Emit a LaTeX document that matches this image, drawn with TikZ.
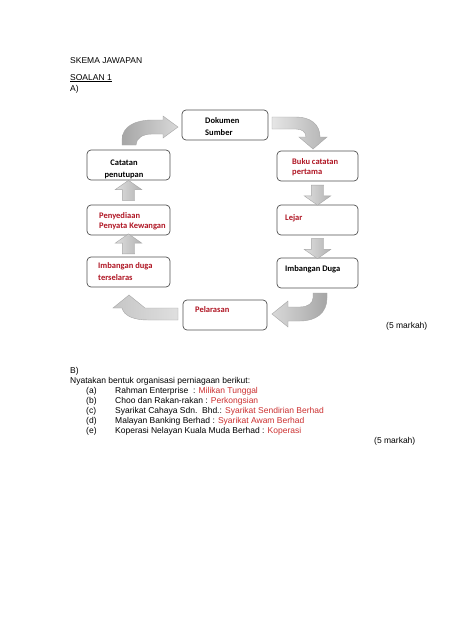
\documentclass[tikz,border=0pt]{standalone}
\usepackage{fontspec}
\setmainfont{Liberation Sans}
\newfontfamily\kotakfont{Carlito}
\usetikzlibrary{shapes.arrows,calc}
\definecolor{M}{RGB}{176, 22, 36}
\definecolor{J}{RGB}{204, 48, 48}
\definecolor{K}{RGB}{80, 80, 80}

\tikzset{
	kotak/.style={draw=K, line width=0.7pt, rounded corners=4pt, fill=white, minimum height=30pt, inner sep=0pt},
	tulis/.style={font=\kotakfont\bfseries\fontsize{8.5}{10}\selectfont, inner sep=0pt, anchor=base west},
	teks/.style={font=\fontsize{8.5}{10}\selectfont, inner sep=0pt, anchor=base west},
	anak/.style={single arrow, draw=gray!70, line width=0.4pt, left color=gray!25, right color=gray!60,
		minimum height=20pt, minimum width=0pt, inner sep=6pt, single arrow head extend=7pt, single arrow tip angle=110},
	lengkung/.style={draw=gray!70, line width=0.4pt}
}

\begin{document}
\begin{tikzpicture}[x=1pt, y=-1pt]
	\useasboundingbox (0,0) rectangle (474,632);
	\fill[white] (0,0) rectangle (474,632);

	%Tajuk
	\node[teks] (tajuk) at (70,63) {SKEMA JAWAPAN};
	\node[teks] (soalan) at (70,80) {\underline{SOALAN 1}};
	\node[teks] (bahA) at (70,91) {A)};

	%Kotak kitaran perakaunan
	\node[kotak, minimum width=86pt] (dok) at (225,125) {};
	\node[kotak, minimum width=83pt] (cat) at (128.5,165) {};
	\node[kotak, minimum width=81pt] (buku) at (317.5,166) {};
	\node[kotak, minimum width=83pt] (peny) at (128.5,220) {};
	\node[kotak, minimum width=81pt] (lejar) at (317.5,220) {};
	\node[kotak, minimum width=83pt] (imbt) at (128.5,272) {};
	\node[kotak, minimum width=81pt] (imbd) at (317.5,273) {};
	\node[kotak, minimum width=84pt] (pel) at (225,315) {};

	%Tulisan dalam kotak
	\node[tulis] (tdok1) at (205,123) {Dokumen};
	\node[tulis] (tdok2) at (205,135) {Sumber};
	\node[tulis, anchor=base] (tcat1) at (124,165) {Catatan};
	\node[tulis, anchor=base] (tcat2) at (124,177) {penutupan};
	\node[tulis, text=M] (tbuku1) at (292,164) {Buku catatan};
	\node[tulis, text=M] (tbuku2) at (292,174) {pertama};
	\node[tulis, text=M] (tpeny1) at (99,218) {Penyediaan};
	\node[tulis, text=M] (tpeny2) at (99,228) {Penyata Kewangan};
	\node[tulis, text=M] (tlejar) at (285,220) {Lejar};
	\node[tulis] (timbd) at (285,271) {Imbangan Duga};
	\node[tulis, text=M] (timbt1) at (98,268) {Imbangan duga};
	\node[tulis, text=M] (timbt2) at (98,280) {terselaras};
	\node[tulis, text=M] (tpel) at (195,312) {Pelarasan};

	%Anak panah lurus
	\node[anak, shape border rotate=270] (a1) at ($(buku.south)!0.5!(lejar.north)$) {};
	\node[anak, shape border rotate=270] (a2) at ($(lejar.south)!0.5!(imbd.north)$) {};
	\node[anak, shape border rotate=90] (a3) at ($(imbt.north)!0.5!(peny.south)$) {};
	\node[anak, shape border rotate=90] (a4) at ($(peny.north)!0.5!(cat.south)$) {};

	%Anak panah lengkung atas kiri
	\draw[lengkung, left color=gray!70, right color=gray!30] (122,145) -- (122,140) .. controls (122,126) and (136,120) .. (152,120)
		-- (163,120) -- (163,116) -- (178,127) -- (163,138) -- (163,134) -- (152,134)
		.. controls (143,134) and (136,138) .. (136,145) -- cycle;
	%Anak panah lengkung atas kanan
	\draw[lengkung, left color=gray!20, right color=gray!60] (272,117) -- (296,117) .. controls (310,117) and (320,124) .. (320,137)
		-- (327,137) -- (313,149) -- (299,137) -- (306,137)
		.. controls (306,132) and (302,129) .. (296,129) -- (272,129) -- cycle;
	%Anak panah lengkung bawah kanan
	\draw[lengkung, left color=gray!30, right color=gray!70] (313,293) -- (327,293) -- (327,298) .. controls (327,313) and (316,321) .. (300,321)
		-- (288,321) -- (288,327) -- (272,314) -- (288,301) -- (288,307) -- (300,307)
		.. controls (308,307) and (313,303) .. (313,298) -- cycle;
	%Anak panah lengkung bawah kiri
	\draw[lengkung, left color=gray!45, right color=gray!25] (178,308) -- (145,308) -- (129,295) -- (113,308) -- (122,308)
		.. controls (124,316) and (134,320) .. (148,320) -- (178,320) -- cycle;

	\node[teks] (markah1) at (386,328) {(5 markah)};

	%Bahagian B
	\node[teks] (bahB) at (70,373) {B)};
	\node[teks] (soalB) at (70,383) {Nyatakan bentuk organisasi perniagaan berikut:};
	\node[teks] (ia) at (86,393) {(a)};
	\node[teks] (ja) at (115,393) {Rahman Enterprise\ \ : \textcolor{J}{Milikan Tunggal}};
	\node[teks] (ib) at (86,403) {(b)};
	\node[teks] (jb) at (115,403) {Choo dan Rakan-rakan : \textcolor{J}{Perkongsian}};
	\node[teks] (ic) at (86,413) {(c)};
	\node[teks] (jc) at (115,413) {Syarikat Cahaya Sdn.\ \ Bhd.: \textcolor{J}{Syarikat Sendirian Berhad}};
	\node[teks] (id) at (86,423) {(d)};
	\node[teks] (jd) at (115,423) {Malayan Banking Berhad : \textcolor{J}{Syarikat Awam Berhad}};
	\node[teks] (ie) at (86,433) {(e)};
	\node[teks] (je) at (115,433) {Koperasi Nelayan Kuala Muda Berhad : \textcolor{J}{Koperasi}};
	\node[teks] (markah2) at (374,443) {(5 markah)};
\end{tikzpicture}
\end{document}
